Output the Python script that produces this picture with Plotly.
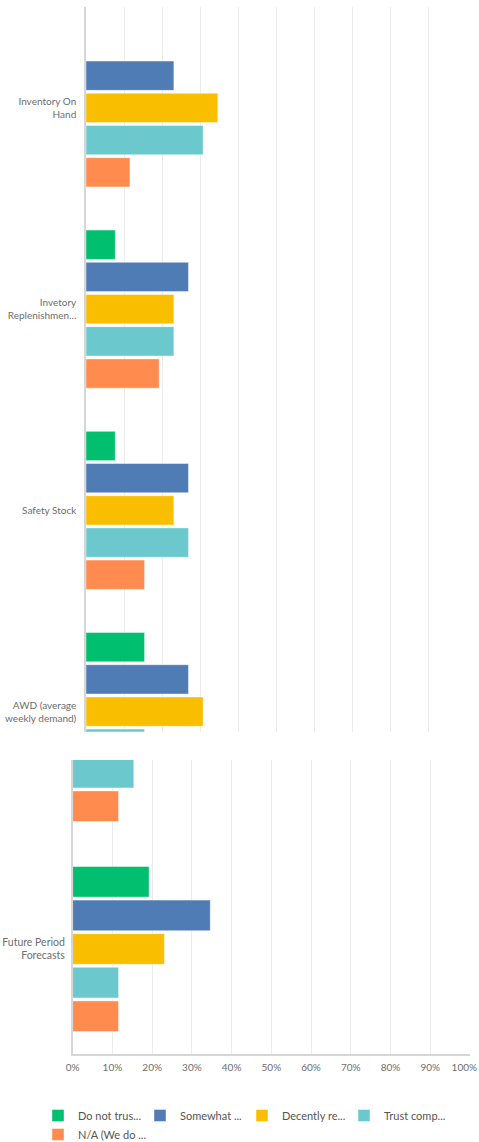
import plotly.graph_objects as go

categories = [
    "Inventory On<br>Hand",
    "Invetory<br>Replenishmen...",
    "Safety Stock",
    "AWD (average<br>weekly demand)",
    "Future Period<br>Forecasts",
]
series_names = ["Do not trus...", "Somewhat ...", "Decently re...", "Trust comp...", "N/A (We do ..."]
series_colors = ["#00BF6F", "#507CB6", "#F9BE00", "#6BC8CD", "#FF8B4F"]
# percentages of respondents
do_not_trust = [0.0, 7.69, 7.69, 15.38, 19.23]
somewhat = [23.08, 26.92, 26.92, 26.92, 34.62]
decently = [34.62, 23.08, 23.08, 30.77, 23.08]
trust_comp = [30.77, 23.08, 26.92, 15.38, 11.54]
na_we_do = [11.54, 19.23, 15.38, 11.54, 11.54]
series_values = [do_not_trust, somewhat, decently, trust_comp, na_we_do]
x_ticks = [0, 10, 20, 30, 40, 50, 60, 70, 80, 90, 100]
x_tick_labels = ["0%", "10%", "20%", "30%", "40%", "50%", "60%", "70%", "80%", "90%", "100%"]

W, H = 479, 1142
def px_x(p):
    return p / W
def px_y(p):
    return 1 - p / H

fig = go.Figure()
for name, color, vals in zip(series_names, series_colors, series_values):
    for i, (xa, ya) in enumerate([("x", "y"), ("x2", "y2")]):
        fig.add_trace(go.Bar(
            x=vals, y=categories, orientation="h", name=name,
            marker=dict(color=color, line=dict(color="rgba(255,255,255,0.55)", width=0.8)),
            xaxis=xa, yaxis=ya, showlegend=(i == 1), legendgroup=name,
            hoverinfo="skip",
        ))
# helper (empty) trace so the overlaid axis carrying the last tick label is drawn
fig.add_trace(go.Scatter(x=[], y=[], xaxis="x3", yaxis="y2", showlegend=False,
                         hoverinfo="skip"))

font_family = "Lato, 'Open Sans', sans-serif"
grid_color = "#ececec"
line_color = "#d6d6d6"
label_color = "#6d6e71"

common_x = dict(range=[0, 100], showgrid=True, gridcolor=grid_color, gridwidth=1.2,
                zeroline=False, fixedrange=True, automargin=False)
common_y = dict(type="category", categoryorder="array", categoryarray=categories,
                showgrid=False, zeroline=False, showline=True, linecolor=line_color,
                linewidth=1.5, ticks="", automargin=False, ticklabelstandoff=6)

bottom_domain = [px_x(72.7), px_x(470)]

fig.update_layout(
    template="none",
    width=W, height=H,
    margin=dict(l=0, r=0, t=0, b=0, autoexpand=False),
    paper_bgcolor="white", plot_bgcolor="white",
    barmode="group", bargap=0.2, bargroupgap=0.09,
    font=dict(family=font_family, color=label_color),
    xaxis=dict(common_x, domain=[px_x(86), px_x(466.7)], anchor="y",
               tickvals=x_ticks, showticklabels=False, showline=False),
    yaxis=dict(common_y, domain=[px_y(731.7), px_y(7.3)], anchor="x",
               range=[3.1, -0.5], tickfont=dict(size=10, color=label_color)),
    xaxis2=dict(common_x, domain=bottom_domain, anchor="y2",
                tickvals=x_ticks, ticktext=x_tick_labels[:-1] + [""],
                showticklabels=True, showline=True, linecolor=line_color, linewidth=1.5,
                ticks="", ticklabelstandoff=3, tickfont=dict(size=10, color=label_color)),
    xaxis3=dict(range=[0, 100], domain=bottom_domain, anchor="y2", overlaying="x2",
                side="bottom", showgrid=False, zeroline=False, showline=False,
                tickvals=x_ticks[-1:], ticktext=x_tick_labels[-1:], ticks="",
                ticklabelposition="outside left", ticklabelshift=7, ticklabelstandoff=6,
                tickfont=dict(size=10, color=label_color), automargin=False, fixedrange=True),
    yaxis2=dict(common_y, domain=[px_y(1054), px_y(760)], anchor="x2",
                range=[4.5, 3.1], tickfont=dict(size=10.5, color=label_color), ticklabelstandoff=4),
    showlegend=True,
    legend=dict(orientation="h", x=px_x(38), xanchor="left", y=px_y(1101), yanchor="top",
                entrywidth=57, font=dict(size=11, color="#555"), traceorder="normal",
                bgcolor="rgba(0,0,0,0)"),
)

fig.write_html("out.html")
